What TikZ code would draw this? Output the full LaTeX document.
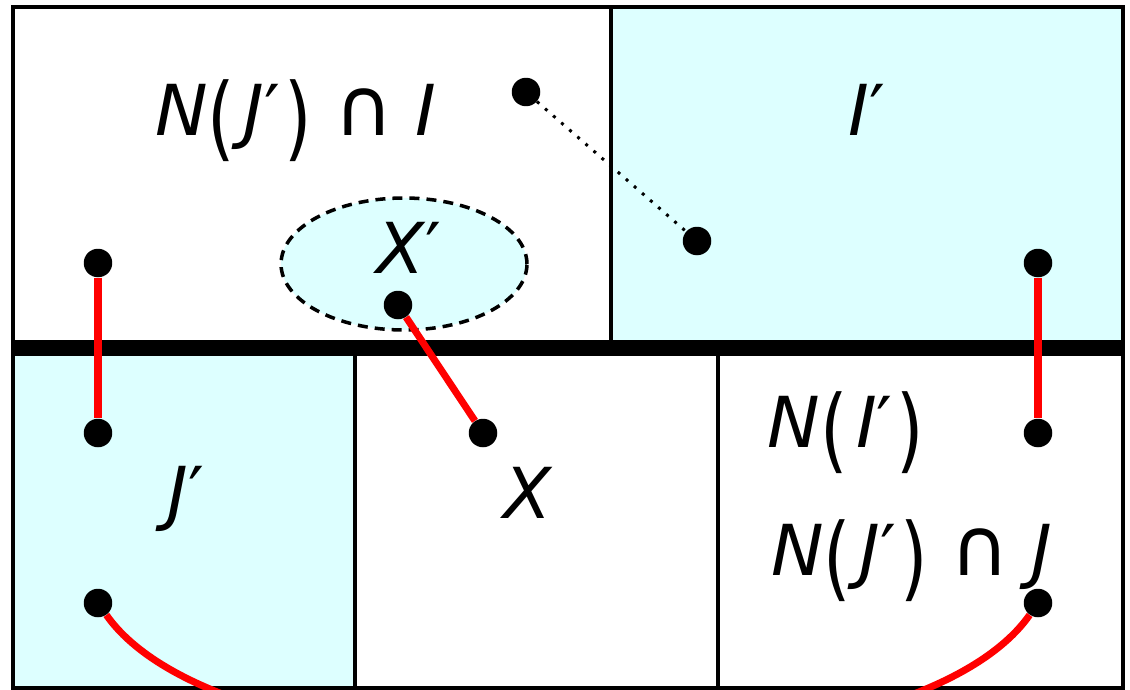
\documentclass[tikz,border=0pt]{standalone}
\usepackage{graphicx}
\usepackage{fontspec}
\setmainfont{DejaVu Sans}
\definecolor{paleblue}{RGB}{221,255,255}
% tall delimiters and cap as in the drawing
\newcommand\lpar{\raisebox{-0.21em}{\scalebox{1}[1.31]{(}}\kern0.12em}
\newcommand\rpar{\kern0.06em\raisebox{-0.21em}{\scalebox{1}[1.31]{)}}}
\newcommand\capop{\ \scalebox{1.15}{∩}\ }

\begin{document}
\begin{tikzpicture}[x=0.02cm, y=-0.02cm,
    dot/.style={circle, fill=black, inner sep=0pt, minimum size=0.57cm},
    link/.style={red, line width=4pt},
    lab/.style={anchor=base, inner sep=0pt, font=\fontsize{40}{44}\selectfont}]
  \useasboundingbox (0,0) rectangle (1130,690);
  \clip (0,0) rectangle (1130,690);
  % shaded cells
  \fill[paleblue] (611,7) rectangle (1123,348);
  \fill[paleblue] (13,348) rectangle (355,688);
  \filldraw[fill=paleblue, line width=2pt, dash pattern=on 5.7pt off 4pt]
        (404,264) ellipse [x radius=2.46cm, y radius=1.32cm];
  % frame and cells
  \draw[line width=2.3pt] (13,7) rectangle (1123,688);
  \draw[line width=2pt] (611,7) -- (611,348) (355,348) -- (355,688) (718,348) -- (718,688);
  \draw[line width=9.1pt] (13,348) -- (1123,348);
  % labels
  \node[lab] (nji) at (296,135) {\textit{N}\lpar\textit{J}′\rpar\capop\textit{I}};
  \node[lab] (ip) at (867,135) {\textit{I}′};
  \node[lab] (xp) at (409,273) {\textit{X}′};
  \node[lab] (jp) at (186,517) {\textit{J}′};
  \node[lab] (x) at (528,518) {\textit{X}};
  \node[lab] (nip) at (846,447) {\textit{N}\lpar\textit{I}′\rpar};
  \node[lab] (njj) at (912,575) {\textit{N}\lpar\textit{J}′\rpar\capop\textit{J}};
  % vertices
  \node[dot] (u1) at (526,92) {};
  \node[dot] (u2) at (697,241) {};
  \node[dot] (a1) at (98,263) {};
  \node[dot] (b1) at (1038,263) {};
  \node[dot] (c1) at (398,305) {};
  \node[dot] (a2) at (98,433) {};
  \node[dot] (c2) at (483,433) {};
  \node[dot] (b2) at (1038,433) {};
  \node[dot] (a3) at (98,603) {};
  \node[dot] (b3) at (1038,603) {};
  % edges
  \draw[line width=1.7pt, dash pattern=on 1.7pt off 4.4pt] (u1) -- (u2);
  \draw[link] (a1) -- (a2);
  \draw[link] (b1) -- (b2);
  \draw[link] (c1) -- (c2);
  \draw[link] (a3) to[out=-55, in=-125, looseness=0.6] (b3);
\end{tikzpicture}
\end{document}
